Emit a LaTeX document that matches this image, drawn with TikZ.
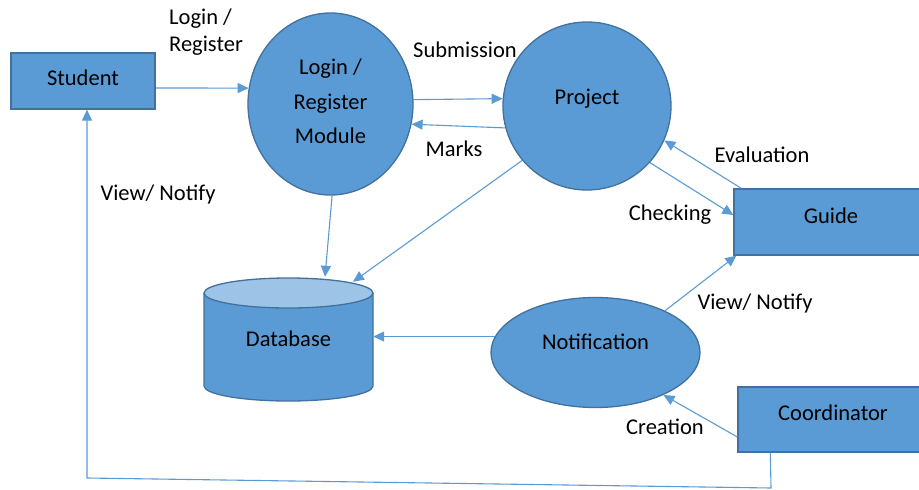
\documentclass[tikz,border=0pt]{standalone}
\usepackage{fontspec}
\setmainfont{Carlito}
\usetikzlibrary{shapes.geometric,arrows.meta}
\definecolor{nodefill}{HTML}{5B9BD5}
\definecolor{nodeline}{HTML}{41719C}
\definecolor{dbtop}{HTML}{9DC3E6}
\definecolor{arrowc}{HTML}{5B9BD5}
\begin{document}
\begin{tikzpicture}[x=1pt,y=-1pt,
  shapebase/.style={draw=nodeline, fill=nodefill, line width=1.3pt, inner sep=0pt},
  boxnode/.style={shapebase, rectangle},
  ovalnode/.style={shapebase, ellipse},
  lab/.style={font=\fontsize{22.5}{34.5}\selectfont, text height=14.5pt, text depth=0pt, inner sep=0pt},
  mlab/.style={font=\fontsize{22.5}{34.5}\selectfont, align=center, inner sep=0pt},
  arr/.style={draw=arrowc, line width=1.1pt, -{Triangle[length=11pt,width=10pt]}},
]
\useasboundingbox (0,0) rectangle (919,490);
\fill[white] (0,0) rectangle (919,490);

% database cylinder
\fill[nodefill] (204,293) -- (204,386) arc[start angle=180,end angle=0,x radius=84.5,y radius=15] -- (373,293) -- cycle;
\draw[nodeline, line width=1.3pt] (204,293) -- (204,386) arc[start angle=180,end angle=0,x radius=84.5,y radius=15] -- (373,293);
\draw[nodeline, line width=1.3pt, fill=dbtop] (288.5,293) ellipse[x radius=84.5, y radius=15];

% nodes
\node[boxnode, minimum width=144pt, minimum height=56pt, label={[lab,yshift=3pt]center:Student}] (student) at (83,81) {};
\node[ovalnode, minimum width=165pt, minimum height=182pt, label={[mlab,yshift=2.5pt]center:{Login /\\Register\\Module}}] (login) at (330.5,104) {};
\node[ovalnode, minimum width=168pt, minimum height=168pt, label={[lab,yshift=9pt]center:Project}] (project) at (587,106) {};
\node[boxnode, minimum width=191pt, minimum height=66pt, label={[lab,xshift=1.5pt,yshift=6pt]center:Guide}] (guide) at (829.5,222) {};
\node[ovalnode, minimum width=209pt, minimum height=110pt, label={[lab,yshift=10.5pt]center:Notification}] (notif) at (595.5,352.5) {};
\node[boxnode, minimum width=187pt, minimum height=65pt, label={[lab,xshift=1.5pt,yshift=6.5pt]center:Coordinator}] (coord) at (831.5,419.5) {};
\node[lab, minimum width=169pt, minimum height=123pt] (db) at (288.5,339.5) {Database};

% connectors
\draw[arr] ([yshift=-7pt]student.east) -- (login.169);
\draw[arr] (login.3) -- (project.175);
\draw[arr] (project.195) -- (login.346);
\draw[arr] (login.271) -- ([xshift=36.5pt,yshift=1pt]db.north);
\draw[arr] (project.220) -- ([xshift=64.5pt,yshift=-4pt]db.north);
\draw[arr] ([xshift=8pt]guide.north west) -- (project.336);
\draw[arr] (project.318) -- ([yshift=7pt]guide.west);
\draw[arr] (notif.31) -- ([xshift=3pt]guide.south west);
\draw[arr] (notif.171) -- (notif.171 -| db.east);
\draw[arr] ([yshift=-17.5pt]coord.west) -- (notif.328);
\coordinate (c1) at (771,488);
\coordinate (c2) at (87,478);
\draw[arr] ([xshift=33pt]coord.south west) -- (c1) -- (c2) -- (c2 |- student.south);

% labels
\node[lab, anchor=west] (t1) at (169,17) {Login /};
\node[lab, anchor=west] (t2) at (169,44) {Register};
\node[lab] (t3) at (465,50.5) {Submission};
\node[lab] (t4) at (454,149.5) {Marks};
\node[lab] (t5) at (158,193) {View/ Notify};
\node[lab] (t6) at (762,155) {Evaluation};
\node[lab] (t7) at (670,213) {Checking};
\node[lab] (t8) at (755,302) {View/ Notify};
\node[lab] (t9) at (665,427) {Creation};
\end{tikzpicture}
\end{document}
